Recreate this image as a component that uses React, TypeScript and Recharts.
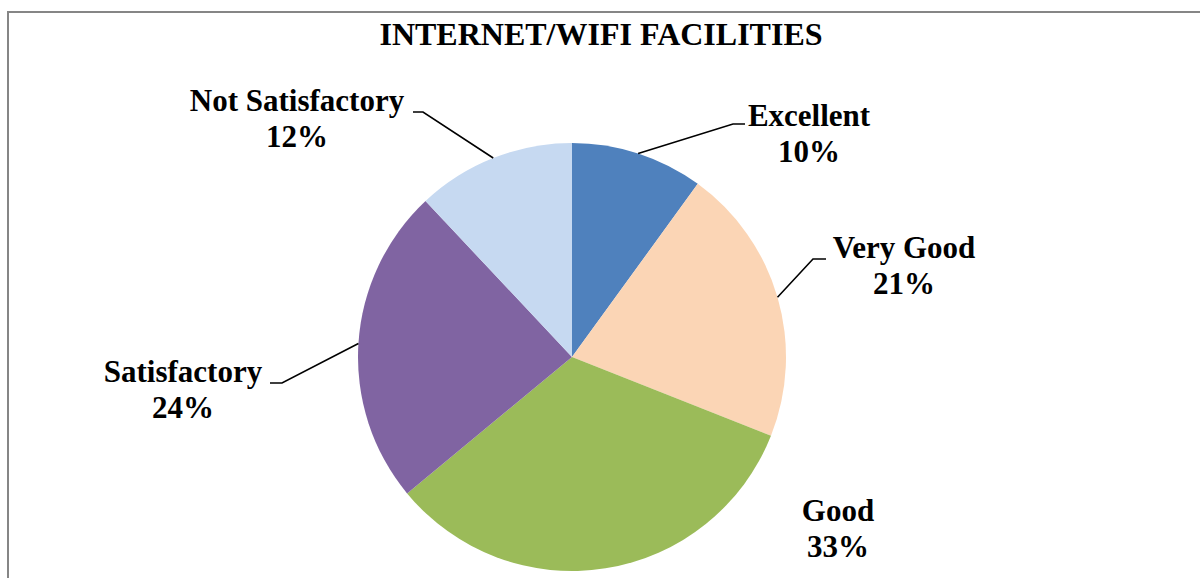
import { PieChart, Pie, Cell } from "recharts";

const categories = ["Excellent", "Very Good", "Good", "Satisfactory", "Not Satisfactory"];
const shares = [10, 21, 33, 24, 12];
const colors = ["#4F81BD", "#FBD5B5", "#9BBB59", "#8064A2", "#C6D9F1"];

const data = categories.map((name, i) => ({ name, value: shares[i] }));

// where Excel left each data label (leader elbow, leader end, text centre, first baseline)
const labelLayout: Record<string, { elbow?: [number, number]; end?: [number, number]; tx: number; ty: number }> = {
  Excellent: { elbow: [733, 124], end: [745, 124], tx: 809, ty: 126 },
  "Very Good": { elbow: [813, 259], end: [826, 259], tx: 904, ty: 258 },
  Good: { tx: 838, ty: 521 },
  Satisfactory: { elbow: [282, 383], end: [270, 383], tx: 183, ty: 382 },
  "Not Satisfactory": { elbow: [423, 112], end: [413, 112], tx: 297, ty: 111 },
};

const RAD = Math.PI / 180;
const font = "Liberation Serif, Times New Roman, serif";
const labelStyle = { fontFamily: font, fontWeight: 700, fontSize: 31 };

function renderLabel(props: any) {
  const { cx, cy, midAngle, outerRadius, name, value } = props;
  const lay = labelLayout[name];
  if (!lay) return null;
  const sx = cx + outerRadius * Math.cos(-midAngle * RAD);
  const sy = cy + outerRadius * Math.sin(-midAngle * RAD);
  return (
    <g>
      {lay.elbow && lay.end && (
        <polyline
          points={`${sx},${sy} ${lay.elbow[0]},${lay.elbow[1]} ${lay.end[0]},${lay.end[1]}`}
          fill="none"
          stroke="#000"
          strokeWidth={1.6}
        />
      )}
      <text x={lay.tx} y={lay.ty} textAnchor="middle" style={labelStyle} fill="#000">
        <tspan x={lay.tx}>{name}</tspan>
        <tspan x={lay.tx} dy={36}>{`${value}%`}</tspan>
      </text>
    </g>
  );
}

export default function App() {
  return (
    <div style={{ position: "absolute", left: 0, top: 0, width: 1200, height: 578, overflow: "hidden", background: "#fff" }}>
      <div
        style={{
          position: "absolute",
          left: 7,
          top: 11,
          width: 1300,
          height: 700,
          border: "2px solid #868686",
        }}
      />
      <div style={{ position: "absolute", left: 0, top: 0 }}>
        <PieChart width={1200} height={578} margin={{ top: 0, right: 0, bottom: 0, left: 0 }}>
          <text
            x={601}
            y={45}
            textAnchor="middle"
            style={{ fontFamily: font, fontWeight: 700, fontSize: 32 }}
            fill="#000"
          >
            INTERNET/WIFI FACILITIES
          </text>
          <Pie
            data={data}
            dataKey="value"
            nameKey="name"
            cx={572}
            cy={357}
            outerRadius={214}
            startAngle={90}
            endAngle={-270}
            stroke="none"
            labelLine={false}
            label={renderLabel}
            isAnimationActive={false}
          >
            {data.map((d, i) => (
              <Cell key={d.name} fill={colors[i]} />
            ))}
          </Pie>
        </PieChart>
      </div>
    </div>
  );
}
